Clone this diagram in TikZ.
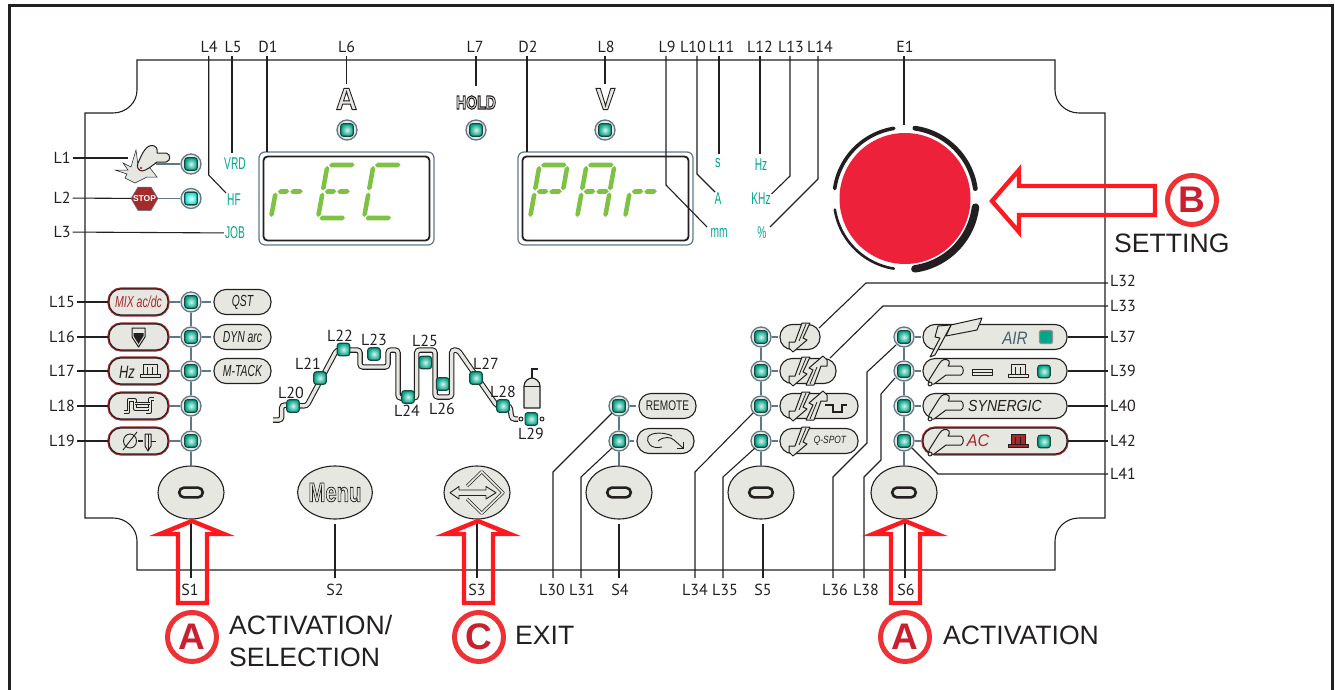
\documentclass[tikz,border=0pt]{standalone}
\usepackage{fontspec}
\setmainfont{PT Sans}
\newfontfamily\lib{Liberation Sans}
\newfontfamily\outl[FakeBold=3]{Liberation Sans Bold}
\newfontfamily\outlh[FakeBold=6]{Liberation Sans Bold}
\usetikzlibrary{calc,shapes.geometric}
\definecolor{ink}{HTML}{231F20}
\definecolor{pfill}{HTML}{E6E7E1}
\definecolor{wire}{HTML}{5F7786}
\definecolor{dred}{HTML}{A52A2A}
\definecolor{aw}{HTML}{FF1A1F}
\definecolor{circ}{HTML}{EE3135}
\definecolor{letr}{HTML}{C9202F}
\definecolor{grn}{HTML}{7DC242}
\definecolor{teal2}{HTML}{00A688}
\definecolor{knob}{HTML}{ED2139}
\definecolor{airc}{HTML}{4A5F6E}
\tikzset{
 lab/.style={font=\fontsize{16}{16}\selectfont,text=ink,inner sep=2pt},
 lead/.style={draw=ink,line width=1.1pt},
 wirel/.style={draw=wire,line width=1.2pt},
 ledring/.style={circle,draw=wire,line width=1.3pt,fill=pfill,minimum size=20pt,inner sep=0pt},
 ledcore/.style={rectangle,rounded corners=2.5pt,draw=ink!70!teal2,line width=1.1pt,minimum size=12.5pt,inner sep=0pt,inner color=white!85!teal2,outer color=teal2},
 ledblue/.style={ledcore,inner color=white,outer color=cyan!70!teal2},
 pill/.style={rectangle,rounded corners=12pt,draw=ink,fill=pfill,line width=1.1pt,minimum height=25pt,inner sep=0pt,font=\lib\fontsize{16}{16}\selectfont,text=ink},
 redpill/.style={pill,minimum height=26pt,preaction={draw=dred,line width=3.2pt}},
 btn/.style={ellipse,draw=ink,fill=pfill,line width=1.1pt,minimum width=66pt,minimum height=53pt,inner sep=0pt},
 ovalmark/.style={rectangle,rounded corners=4.8pt,draw=ink,line width=2.6pt,minimum width=23.5pt,minimum height=9.8pt,inner sep=0pt},
 greentxt/.style={font=\lib\fontsize{17}{17}\selectfont,text=teal2,inner sep=1pt},
 bigtxt/.style={font=\lib\fontsize{26.6}{26.6}\selectfont,text=ink,inner sep=0pt,anchor=west},
 redarrow/.style={draw=aw,line width=4.4pt,miter limit=10,line join=miter},
 badge/.style={circle,draw=circ,line width=5pt,minimum size=49pt,inner sep=0pt,font=\lib\bfseries\fontsize{37}{37}\selectfont,text=letr},
 segf/.style={fill=grn,draw=none},
 icon/.style={draw=ink,fill=pfill,line width=1pt,line join=round},
 dbl/.style={draw=ink,line width=.7pt,double=pfill,double distance=1.7pt,line join=round},
 proc/.style={draw=ink,line width=1.1pt,double=pfill,double distance=3.3pt,rounded corners=3pt},
}
\newcommand\toplab[4]{\node[lab] (#1) at (#3,47) {#2}; \coordinate (#1e) at (#4,56);}
\newcommand\botlab[4]{\node[lab] (#1) at (#3,590) {#2}; \coordinate (#1e) at (#4,578);}
\newcommand\ringled[3]{\node[ledring] (#1) at (#2,#3) {}; \node[ledcore] (#1c) at (#2,#3) {};}
\newcommand\sqled[3]{\node[ledcore] (#1) at (#2,#3) {};}
\newcommand\hseg[3]{\fill[segf] (#1,#3) -- (#1+2.2,#3-2.3) -- (#2-2.2,#3-2.3) -- (#2,#3) -- (#2-2.2,#3+2.3) -- (#1+2.2,#3+2.3) -- cycle;}
\newcommand\vseg[3]{\fill[segf] (#1,#2) -- (#1+2.3,#2+2.2) -- (#1+2.3,#3-2.2) -- (#1,#3) -- (#1-2.3,#3-2.2) -- (#1-2.3,#2+2.2) -- cycle;}
\newcommand\dgT{\hseg{1.5}{27}{-53}}
\newcommand\dgML{\hseg{2}{13.5}{-26.5}}
\newcommand\dgMR{\hseg{14.5}{27}{-26.5}}
\newcommand\dgB{\hseg{1.5}{27}{0}}
\newcommand\dgF{\vseg{0}{-52}{-27.5}}
\newcommand\dgE{\vseg{0}{-25.5}{-1}}
\newcommand\dgR{\vseg{28}{-52}{-27.5}}
\newcommand\dgC{\vseg{28}{-25.5}{-1}}
\newcommand\digit[2]{\begin{scope}[cm={1,0,0.18,1,(#1,218)}]#2\end{scope}}
\newcommand\itx[2]{\scalebox{#1}[1]{\itshape #2}}
\newcommand\outline[3]{\scalebox{#1}[1]{\outl\fontsize{#2}{#2}\selectfont\color{pfill}\special{pdf:code 0.14 0.12 0.13 RG}#3}}
\newcommand\outlineh[3]{\scalebox{#1}[1]{\outlh\fontsize{#2}{#2}\selectfont\color{pfill}\special{pdf:code 0.14 0.12 0.13 RG}#3}}
\newcommand\torch[2]{\begin{scope}[shift={(#1,#2)}]
 \draw[icon] (-2,9) -- (8,-7) .. controls (11,-12) and (15,-13) .. (18,-10) .. controls (19,-8) and (18,-6) .. (17,-5) -- (30,-5) .. controls (33,-4) and (33,3) .. (30,4) -- (15,4) -- (3,13) .. controls (1,14) and (-3,12) .. (-2,9) -- cycle;
 \draw[icon] (-1,13) circle (2pt);
 \end{scope}}
\newcommand\boltpath{(22,-14) -- (30,-14) -- (23,1) -- (27,3) -- (13,15) -- (9,11) -- (9,5) -- (15,5) -- cycle}
\newcommand\boltdn[2]{\begin{scope}[shift={(#1,#2)}]\draw[icon] \boltpath;\draw[ink,line width=.8pt] (26,-13) -- (19,4);\end{scope}}
\newcommand\boltup[2]{\begin{scope}[shift={(#1,#2)},rotate=180]\draw[icon] \boltpath;\draw[ink,line width=.8pt] (26,-13) -- (19,4);\end{scope}}
\newcommand\pulse[3]{\begin{scope}[shift={(#1,#2)}]\draw[draw=ink,fill=#3,line width=.9pt,line join=round] (-10,6.5) -- (-10,3) -- (-7,3) -- (-7,-7) -- (7,-7) -- (7,3) -- (10,3) -- (10,6.5) -- cycle; \draw[draw=ink,line width=.8pt] (-2.5,3) -- (-2.5,-4) (2.5,3) -- (2.5,-4) (-10,3) -- (10,3);\end{scope}}
\newcommand\knobarc[3]{\draw[ink,line width=#3pt,line cap=round] plot[domain=#1:#2,samples=40] ({905+71*cos(\x)},{198.5-71*sin(\x)});}
\begin{document}
\begin{tikzpicture}[x=1pt,y=-1pt]
\useasboundingbox (0,0) rectangle (1335,690);
\draw[ink,line width=3pt] (9,690) -- (9,6) -- (1332.5,6) -- (1332.5,690);
% panel
\draw[ink,line width=1.1pt] (137,60) -- (1055,60) -- (1055,90) .. controls (1055,103) and (1066,113) .. (1079,113) -- (1105,113) -- (1105,518) -- (1079,518) .. controls (1066,518) and (1055,528) .. (1055,541) -- (1055,570) -- (137,570) -- (137,541) .. controls (137,528) and (126,518) .. (113,518) -- (85,518) -- (85,113) -- (113,113) .. controls (126,113) and (137,103) .. (137,90) -- cycle;
% top labels
\toplab{L4}{L4}{209}{208.7}\toplab{L5}{L5}{233}{232}\toplab{D1}{D1}{268}{267}\toplab{L6}{L6}{346.5}{346.5}
\toplab{L7}{L7}{475}{476}\toplab{D2}{D2}{528}{527}\toplab{L8}{L8}{606}{605}\toplab{L9}{L9}{667}{666}
\toplab{L10}{L10}{693}{697}\toplab{L11}{L11}{721.5}{719}\toplab{L12}{L12}{760}{760}\toplab{L13}{L13}{791}{790}
\toplab{L14}{L14}{820}{818}\toplab{E1}{E1}{905}{904}
% bottom labels
\botlab{S1}{S1}{190}{191}\botlab{S2}{S2}{335}{335}\botlab{S3}{S3}{477}{477}\botlab{L30}{L30}{552}{553}\botlab{L31}{L31}{582}{581}
\botlab{S4}{S4}{620}{619}\botlab{L34}{L34}{695}{695}\botlab{L35}{L35}{725}{723}\botlab{S5}{S5}{763}{763}
\botlab{L36}{L36}{835}{833}\botlab{L38}{L38}{866}{864}\botlab{S6}{S6}{906}{905}
% left labels
\node[lab] (L1) at (62,158) {L1};\node[lab] (L2) at (62,198) {L2};\node[lab] (L3) at (62,232) {L3};
\foreach \n/\y in {15/302,16/337,17/371,18/406,19/441}{\node[lab] (L\n) at (62,\y) {L\n};}
% right labels
\foreach \n/\y in {32/281,33/306,37/337,39/371,40/406,42/441,41/474}{\node[lab,anchor=west] (L\n) at (1108,\y) {L\n};}
% green texts
\node[greentxt] (tVRD) at (235,164) {\scalebox{.6}[1]{VRD}};
\node[greentxt] (tHF) at (234,200) {\scalebox{.6}[1]{HF}};
\node[greentxt] (tJOB) at (235,233) {\scalebox{.6}[1]{JOB}};
\node[greentxt] (ts) at (718,163) {\scalebox{.65}[1]{s}};
\node[greentxt] (tA) at (718,199) {\scalebox{.6}[1]{A}};
\node[greentxt] (tmm) at (719,233) {\scalebox{.6}[1]{mm}};
\node[greentxt] (tHz) at (761,165) {\scalebox{.6}[1]{Hz}};
\node[greentxt] (tKHz) at (761,199) {\scalebox{.6}[1]{KHz}};
\node[greentxt] (tpc) at (762,233) {\scalebox{.6}[1]{\%}};
% displays
\node[rectangle,rounded corners=6pt,draw=wire,line width=1.2pt,minimum width=175pt,minimum height=93pt,inner sep=0pt] (disp1) at (346.5,198.5) {};
\node[rectangle,rounded corners=4pt,draw=ink,line width=1.8pt,minimum width=166pt,minimum height=84pt,inner sep=0pt] (disp1i) at (346.5,198.5) {};
\node[rectangle,rounded corners=6pt,draw=wire,line width=1.2pt,minimum width=175pt,minimum height=93pt,inner sep=0pt] (disp2) at (605.5,198.5) {};
\node[rectangle,rounded corners=4pt,draw=ink,line width=1.8pt,minimum width=166pt,minimum height=84pt,inner sep=0pt] (disp2i) at (605.5,198.5) {};
\digit{271}{\dgE\dgML\dgMR}
\digit{318}{\dgF\dgE\dgT\dgML\dgMR\dgB}
\digit{364}{\dgF\dgE\dgT\dgB}
\digit{530}{\dgF\dgE\dgT\dgR\dgML\dgMR}
\digit{577}{\dgF\dgE\dgT\dgR\dgC\dgML\dgMR}
\digit{625}{\dgE\dgML\dgMR}
% A HOLD V
\node[inner sep=0pt] (mA) at (346.5,99) {\outline{.95}{31}{A}};
\node[inner sep=0pt] (mH) at (476,102.5) {\outlineh{.74}{19}{HOLD}};
\node[inner sep=0pt] (mV) at (605.5,99) {\outline{.95}{31}{V}};
\ringled{led6}{347}{130}\ringled{led7}{476}{130}\ringled{led8}{605}{130}
% L1 icon
\fill[pfill,draw=ink,line width=.5pt] (115,170) -- (128,170) -- (123,163) -- (131,167) -- (136,150) -- (138,165) -- (150,168) -- (157,177) -- (147,177) -- (135,183) -- (125,178) -- (127,174) -- cycle;
\draw[icon,fill=pfill] (138,163) .. controls (141,157) and (144,147) .. (151,145.5) .. controls (156,145) and (158,149) .. (157,153) -- (166,153) .. controls (171,154) and (171,161) .. (166,162) -- (157,162) .. controls (153,165) and (146,171) .. (142,171) .. controls (139,171) and (136,167) .. (138,163) -- cycle;
\fill[knob] (141,168) circle (1.4pt);
\coordinate (hand) at (156,164);
\ringled{led1}{191}{164}
\draw[wirel] (hand) -- (led1);
\fill[dred,draw=wire,line width=.5pt] (131,198.5) -- (138,187) -- (151,187) -- (158,198.5) -- (151,210.5) -- (138,210.5) -- cycle;
\node[inner sep=0pt,minimum width=27pt,minimum height=23pt,font=\lib\bfseries\fontsize{8.5}{8.5}\selectfont,text=white] (stop) at (144.5,198.5) {STOP};
\ringled{led2}{191}{198.5}
\node[ledblue] (led2c) at (191,198.5) {};
\draw[wirel] (stop) -- (led2);
\draw[lead] (L1) -- (128,158);
\draw[lead] (L2) -- (stop);
\draw[lead] (L3) -- (tJOB);
% left column
\node[redpill,minimum width=59pt,text=dred] (p15) at (138.5,302) {\itx{.66}{MIX ac/dc}};
\node[redpill,minimum width=59pt] (p16) at (138.5,337) {};
\node[redpill,minimum width=59pt] (p17) at (138.5,371) {};
\node[redpill,minimum width=59pt] (p18) at (138.5,406) {};
\node[redpill,minimum width=59pt] (p19) at (138.5,441) {};
\ringled{l15}{191}{302}\ringled{l16}{191}{337}\ringled{l17}{191}{371}\ringled{l18}{191}{406}\ringled{l19}{191}{441}
\node[pill,minimum width=57pt] (qst) at (242.5,302) {\itx{.65}{QST}};
\node[pill,minimum width=57pt] (dyn) at (242.5,337) {\itx{.65}{DYN arc}};
\node[pill,minimum width=57pt] (mt) at (242.5,371) {\itx{.65}{M-TACK}};
\foreach \n in {15,16,17,18,19}{\draw[lead] (L\n) -- (p\n); \draw[wirel] (p\n) -- (l\n);}
\draw[wirel] (l15) -- (l16);\draw[wirel] (l16) -- (l17);\draw[wirel] (l17) -- (l18);\draw[wirel] (l18) -- (l19);
\draw[wirel] (l15.east) -- +(9,0);\draw[wirel] (l16.east) -- +(9,0);\draw[wirel] (l17.east) -- +(9,0);
% icons of left pills
\draw[icon,line width=1pt] (132,328) -- (145,328) -- (145,337) -- (138.5,347) -- (132,337) -- cycle;
\fill[ink] (133.5,333) -- (143.5,333) -- (143.5,336) -- (138.5,344) -- (133.5,336) -- cycle;
\node[inner sep=0pt,font=\lib\fontsize{18}{18}\selectfont,text=ink] (thz) at (127,372) {\itx{.72}{Hz}};
\pulse{150}{371}{pfill}
\draw[dbl] (124,412) -- (128.5,412) -- (128.5,400) -- (135,400) -- (135,409) -- (150,409) -- (150,399) -- (154,399);
\draw[dbl] (135,403.5) -- (150,403.5);
\draw[dbl] (150,409) -- (150,412) -- (146,412);
\draw[ink,line width=.9pt] (130,441) ellipse [x radius=6.5pt,y radius=7pt];
\draw[ink,line width=.9pt] (123,450) -- (137,432);
\draw[ink,line width=1.1pt] (138,441) -- (143,441);
\draw[icon] (145,434) -- (151,434) -- (151,446) -- (148,451) -- (145,446) -- cycle;
\draw[ink,line width=.9pt] (148,434) -- (148,451) (151,441) -- (156,441);
% buttons
\node[btn] (b1) at (191,492.5) {};\node[ovalmark] at (191,492.5) {};
\node[btn] (b2) at (335,492.5) {\outline{.75}{27}{Menu}};
\node[btn] (b3) at (477,492.5) {};
\draw[dbl] (467,486) -- (481.7,471.7) -- (503,492.7) -- (481.7,513.3) -- (467,499);
\draw[icon,line width=.9pt] (450,492.7) -- (459,486.5) -- (459,490) -- (486,490) -- (486,486.5) -- (496,492.7) -- (486,499) -- (486,495.5) -- (459,495.5) -- (459,499) -- cycle;
\node[btn] (b4) at (619,492.5) {};\node[ovalmark] at (619,492.5) {};
\node[btn] (b5) at (761,492.5) {};\node[ovalmark] at (761,492.5) {};
\node[btn] (b6) at (904,492.5) {};\node[ovalmark] at (904,492.5) {};
\draw[wirel] (l19) -- (b1);
\draw[lead] (S1e) -- (b1.south -| S1e);
\draw[lead] (S2e) -- ($(b2.south)+(0,4)$);
\draw[lead] (S3e) -- (b3.south);
\draw[lead] (S4e) -- ($(b4.south)+(0,4)$);
\draw[lead] (S5e) -- ($(b5.south)+(2,4)$);
\draw[lead] (S6e) -- (b6.south -| S6e);
% process
\draw[proc] (273,420) -- (281.7,420) -- (281.7,405) -- (306.7,406) -- (336.7,350) -- (360,350) -- (360,367) -- (388,367) -- (388,350) -- (398,350) -- (398,398) -- (416.7,398) -- (416.7,350) -- (435,350) -- (435,397) -- (451.7,397) -- (451.7,350) -- (458,350) -- (497,406) -- (510,406) -- (511.7,419) -- (518,419);
\foreach \n/\x/\y in {20/293/406,21/320/378,22/343.5/349.5,23/374/354,24/408/397,25/425.3/362.5,26/442.7/384,27/476/378,28/503/406,29/531.3/419}{\sqled{sl\n}{\x}{\y}}
\node[lab,inner sep=0pt] (t20) at (291,393) {L20};\node[lab,inner sep=0pt] (t21) at (308,364) {L21};\node[lab,inner sep=0pt] (t22) at (340,336) {L22};
\node[lab,inner sep=0pt] (t23) at (374,340) {L23};\node[lab,inner sep=0pt] (t24) at (407,411) {L24};\node[lab,inner sep=0pt] (t25) at (425,341) {L25};
\node[lab,inner sep=0pt] (t26) at (442,409) {L26};\node[lab,inner sep=0pt] (t27) at (486,364) {L27};\node[lab,inner sep=0pt] (t28) at (503,392) {L28};\node[lab,inner sep=0pt] (t29) at (531,434) {L29};
% bottle
\draw[icon,line width=1.2pt] (524,408) -- (524,386) .. controls (524,381) and (529,378) .. (532,378) .. controls (535,378) and (540,381) .. (540,386) -- (540,408) -- cycle;
\draw[ink,line width=.9pt] (524,386) -- (540,386);
\draw[ink,line width=1.2pt] (532,378) -- (532,369) -- (538,369);
\draw[ink,line width=.9pt,fill=pfill] (521,419) circle (2pt) (542,419) circle (2pt);
% mid columns
\ringled{l30}{619}{406}\ringled{l31}{619}{441}
\draw[wirel] (l30) -- (l31);\draw[wirel] (l31) -- (b4);
\node[pill,minimum width=57pt] (prem) at (667.5,406) {\scalebox{.72}[1]{\fontsize{14}{14}\selectfont REMOTE}};
\node[pill,minimum width=57pt] (pcur) at (665.5,441) {};
\draw[ink,line width=.9pt] (662,447) .. controls (650,450) and (646,441) .. (648,437) .. controls (651,432) and (665,432) .. (672,436);
\draw[ink,line width=.9pt] (658,441) .. controls (664,436) and (671,437) .. (674,440) -- (683,448);
\draw[ink,line width=.9pt] (683,442) -- (683,448) -- (677,448);
\draw[wirel] (l30.east) -- +(6,0);\draw[wirel] (l31.east) -- +(4,0);
\foreach \n/\y in {a/337,b/371,c/406,d/441}{\ringled{m\n}{761}{\y}}
\draw[wirel] (ma) -- (mb);\draw[wirel] (mb) -- (mc);\draw[wirel] (mc) -- (md);\draw[wirel] (md) -- (b5);
\node[pill,minimum width=40pt] (pa) at (800,337) {};
\node[pill,minimum width=56pt] (pb) at (808,371) {};
\node[pill,minimum width=78pt] (pc) at (819,406) {};
\node[pill,minimum width=78pt] (pd) at (819,441) {};
\foreach \n in {a,b,c,d}{\draw[wirel] (m\n.east) -- +(6,0);}
\boltdn{780}{337}\boltdn{780}{371}\boltup{836}{371}\boltdn{780}{406}\boltup{836}{406}\boltdn{780}{441}
\draw[ink,line width=1.2pt] (825,405) -- (833,405) -- (833,412) -- (842,412) -- (842,405) -- (847,405);
\node[inner sep=0pt,font=\lib\fontsize{10.5}{10.5}\selectfont,text=ink] (qspot) at (830,441) {\itx{.8}{Q-SPOT}};
% right column
\foreach \n/\y in {a/337,b/371,c/406,d/441}{\ringled{r\n}{904}{\y}}
\draw[wirel] (ra) -- (rb);\draw[wirel] (rb) -- (rc);\draw[wirel] (rc) -- (rd);\draw[wirel] (rd) -- (b6);
\node[pill,minimum width=144pt] (qa) at (995,337) {};
\node[pill,minimum width=144pt] (qb) at (995,371) {};
\node[pill,minimum width=144pt] (qc) at (995,406) {};
\node[redpill,minimum width=144pt] (qd) at (995,441) {};
\foreach \n in {a,b,c,d}{\draw[wirel] (r\n.east) -- +(6,0);}
\draw[icon] (951,325) -- (982,318) -- (977,330) -- (946,336) -- cycle;
\draw[icon] (938,326) -- (935,337) -- (940,338) -- (930,357) -- (935,355) -- (951,325) -- cycle;
\node[inner sep=0pt,font=\lib\fontsize{18}{18}\selectfont,text=airc] (tair) at (1015,338) {\itx{.85}{AIR}};
\node[rectangle,rounded corners=2pt,draw=ink!50,line width=1.3pt,fill=teal2,minimum size=13pt,inner sep=0pt] (sqa) at (1046,337) {};
\torch{931}{371}\torch{931}{406}\torch{931}{441}
\draw[icon,line width=.8pt] (972,369) -- (992,369) -- (992,375) -- (972,375) -- cycle (972,372) -- (992,372);
\pulse{1018}{371}{pfill}
\sqled{sqb}{1044}{371.5}
\node[inner sep=0pt,font=\lib\fontsize{16}{16}\selectfont,text=ink] (tsyn) at (1005,406) {\itx{.88}{SYNERGIC}};
\node[inner sep=0pt,font=\lib\fontsize{17}{17}\selectfont,text=dred] (tac) at (978,441) {\itx{.95}{AC}};
\pulse{1018}{441}{dred}
\sqled{sqd}{1044}{441.5}
% right leaders
\draw[lead] (qa) -- (L37);\draw[lead] (qb) -- (L39);\draw[lead] (qc) -- (L40);\draw[lead] (qd) -- (L42);
\coordinate (c32) at (819,328);\coordinate (c33) at (830,358);
\draw[lead] (c32) -- (866,283) -- (1108,283);
\draw[lead] (c33) -- (883,306) -- (L33.west);
\coordinate (c41) at (912,448);\draw[lead] (c41) -- (938,474) -- (L41.west);
\coordinate (c36) at (896,345);\draw[lead] (c36) -- (867,372) -- (867,443) -- (833,477) -- (L36e);
\coordinate (c38) at (895,378);\draw[lead] (c38) -- (881,394) -- (881,460) -- (864,477) -- (L38e);
\coordinate (c34) at (753,413);\draw[lead] (c34) -- (695,472) -- (L34e);
\coordinate (c35) at (755,448);\draw[lead] (c35) -- (723,477) -- (L35e);
\coordinate (c30) at (612,413);\draw[lead] (c30) -- (553,472) -- (L30e);
\coordinate (c31) at (612,448);\draw[lead] (c31) -- (581,477) -- (L31e);
% top leaders
\draw[lead] (L4e) -- (208.7,175) -- (tHF.north west);
\draw[lead] (L5e) -- (232,153);
\draw[lead] (D1e) -- (267,152);
\draw[lead] (L6e) -- (346.5,84);
\draw[lead] (L7e) -- (476,86);
\draw[lead] (D2e) -- (527,152);
\draw[lead] (L8e) -- (605,84);
\draw[lead] (L9e) -- (666,185) -- (707,227);
\draw[lead] (L10e) -- (697,174) -- (715,192);
\draw[lead] (L11e) -- (719,154);
\draw[lead] (L12e) -- (760,154);
\draw[lead] (L13e) -- (790,176) -- (771.5,194);
\draw[lead] (L14e) -- (818,179) -- (770,227);
\draw[lead] (E1e) -- (904,125);
% knob
\node[circle,fill=knob,minimum size=131pt,inner sep=0pt] (kn) at (905,198.5) {};
\knobarc{99}{172}{3.6}\knobarc{82}{8}{4.8}\knobarc{-7}{-82}{7.5}\knobarc{189}{261}{2.6}
% red arrows
\draw[redarrow] (192,521) -- (224,534) -- (207,534) -- (207,603) -- (178,603) -- (178,534) -- (160,534) -- cycle;
\draw[redarrow] (478,521) -- (510,534) -- (493,534) -- (493,603) -- (464,603) -- (464,534) -- (446,534) -- cycle;
\draw[redarrow] (905,521) -- (937,534) -- (920,534) -- (920,603) -- (891,603) -- (891,534) -- (873,534) -- cycle;
\draw[redarrow] (992,201) -- (1019,170) -- (1019,186) -- (1155,186) -- (1155,215) -- (1019,215) -- (1019,232) -- cycle;
% badges
\node[badge] (bA1) at (192,637) {A};
\node[badge] (bC) at (479,637) {C};
\node[badge] (bA2) at (905,637) {A};
\node[badge] (bB) at (1192,200) {B};
\node[bigtxt] (t1) at (229,625) {ACTIVATION/};
\node[bigtxt] (t2) at (229,657) {SELECTION};
\node[bigtxt] (t3) at (515,635) {EXIT};
\node[bigtxt] (t4) at (943,635) {ACTIVATION};
\node[bigtxt] (t5) at (1114,243) {SETTING};
\end{tikzpicture}
\end{document}
